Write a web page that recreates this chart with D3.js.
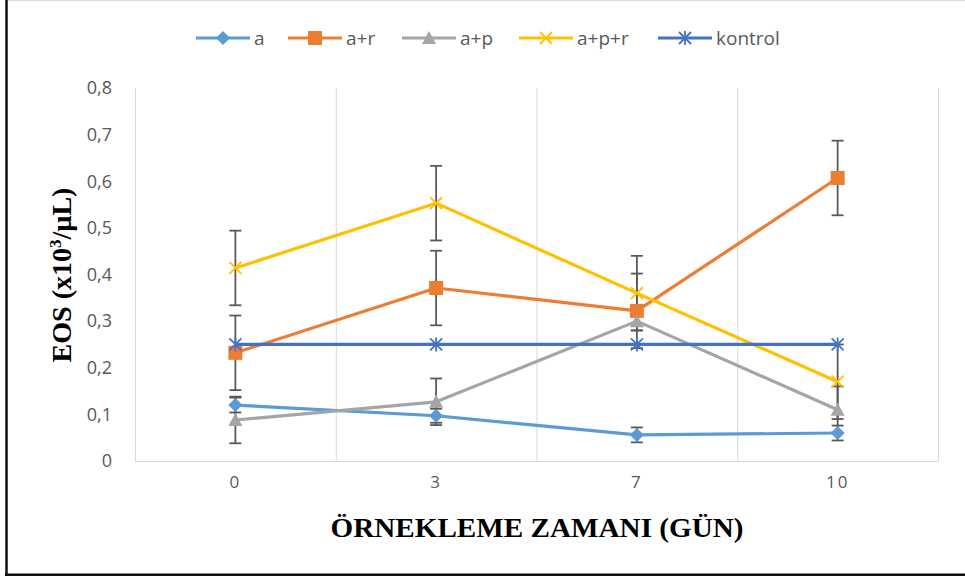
<!DOCTYPE html>
<html><head><meta charset="utf-8">
<script src="https://cdn.jsdelivr.net/npm/d3@7"></script>
<style>body{margin:0;background:#fff}svg{display:block}</style>
</head><body>
<svg id="c" width="965" height="579"></svg>
<script>
const categories = ["0","3","7","10"];
const seriesNames = ["a","a+r","a+p","a+p+r","kontrol"];
const valA     = [0.12, 0.097, 0.056, 0.06];
const valAR    = [0.232, 0.371, 0.322, 0.607];
const valAP    = [0.088, 0.127, 0.30, 0.11];
const valAPR   = [0.414, 0.553, 0.36, 0.17];
const valK     = [0.25, 0.25, 0.25, 0.25];
const errA     = [0.016, 0.015, 0.016, 0.016];
const errAR    = [0.08, 0.08, 0.08, 0.08];
const errAP    = [0.05, 0.05, 0.02, 0.05];
const errAPR   = [0.08, 0.08, 0.08, 0.08];
const errK     = [0, 0, 0, 0];
const yTicks   = [0,0.1,0.2,0.3,0.4,0.5,0.6,0.7,0.8];

const series = [
  {name:"a", vals:valA, err:errA, color:"#5B9BD5", marker:"diamond"},
  {name:"a+r", vals:valAR, err:errAR, color:"#ED7D31", marker:"square"},
  {name:"a+p", vals:valAP, err:errAP, color:"#A5A5A5", marker:"triangle"},
  {name:"a+p+r", vals:valAPR, err:errAPR, color:"#FFC000", marker:"x"},
  {name:"kontrol", vals:valK, err:errK, color:"#4472C4", marker:"star"}
];

const svg = d3.select("#c");
// outer frame
svg.append("line").attr("x1",7).attr("x2",965).attr("y1",0.5).attr("y2",0.5).attr("stroke","#d9d9d9");
svg.append("line").attr("x1",6.5).attr("x2",6.5).attr("y1",0).attr("y2",576).attr("stroke","#111").attr("stroke-width",2.5);
svg.append("line").attr("x1",5).attr("x2",965).attr("y1",574.8).attr("y2",574.8).attr("stroke","#111").attr("stroke-width",2.5);

const x = d3.scaleBand().domain(categories).range([135,938]);
const y = d3.scaleLinear().domain([0,0.8]).range([461,88]);

// vertical grid lines at band boundaries
const bounds = categories.map(c=>x(c)).concat([x.range()[1]]);
svg.append("g").selectAll("line").data(bounds).join("line")
  .attr("x1",d=>d+0.5).attr("x2",d=>d+0.5).attr("y1",y(0.8)).attr("y2",y(0))
  .attr("stroke","#d9d9d9").attr("stroke-width",1);
svg.append("line").attr("x1",135).attr("x2",938).attr("y1",y(0)+0.5).attr("y2",y(0)+0.5)
  .attr("stroke","#d9d9d9");

// y axis labels
const yAxis = d3.axisLeft(y).tickValues(yTicks).tickSize(0).tickPadding(0)
  .tickFormat(d=> d===0 ? "0" : d3.format(".1f")(d).replace(".",","));
const gy = svg.append("g").attr("transform","translate(112,0)").call(yAxis);
gy.select(".domain").remove();
gy.selectAll("text").attr("font-family","Open Sans").attr("font-size",18).attr("fill","#595959");

// x axis labels
const xAxis = d3.axisBottom(x).tickSize(0).tickPadding(0);
const gx = svg.append("g").attr("transform","translate(0,476)").call(xAxis);
gx.select(".domain").remove();
gx.selectAll("text").attr("font-family","Open Sans").attr("font-size",17).attr("fill","#595959")
  .attr("letter-spacing",2);

const cx = c => x(c) + x.bandwidth()/2;

function drawMarker(g, type, color, px, py){
  const s = 6;
  if(type==="diamond"){
    g.append("path").attr("d",`M${px},${py-s-1}L${px+s+1},${py}L${px},${py+s+1}L${px-s-1},${py}Z`).attr("fill",color);
  } else if(type==="square"){
    g.append("rect").attr("x",px-s-1).attr("y",py-s-1).attr("width",2*s+2).attr("height",2*s+2).attr("fill",color);
  } else if(type==="triangle"){
    g.append("path").attr("d",`M${px},${py-s-1}L${px+s+1},${py+s}L${px-s-1},${py+s}Z`).attr("fill",color);
  } else if(type==="x"){
    g.append("path").attr("d",`M${px-s},${py-s}L${px+s},${py+s}M${px+s},${py-s}L${px-s},${py+s}`)
      .attr("stroke",color).attr("stroke-width",1.8).attr("fill","none");
  } else if(type==="star"){
    g.append("path").attr("d",`M${px-s},${py-s}L${px+s},${py+s}M${px+s},${py-s}L${px-s},${py+s}M${px},${py-s-1}L${px},${py+s+1}`)
      .attr("stroke",color).attr("stroke-width",1.8).attr("fill","none");
  }
}

const line = d3.line().x((d,i)=>cx(categories[i])).y(d=>y(d));

// error bars
const eg = svg.append("g");
series.forEach(s=>{
  s.vals.forEach((v,i)=>{
    const e = s.err[i]; if(!e) return;
    const px = cx(categories[i]);
    eg.append("line").attr("x1",px).attr("x2",px).attr("y1",y(v+e)).attr("y2",y(v-e))
      .attr("stroke","#595959").attr("stroke-width",1.8);
    [v+e, v-e].forEach(t=>{
      eg.append("line").attr("x1",px-6).attr("x2",px+6).attr("y1",y(t)).attr("y2",y(t))
        .attr("stroke","#595959").attr("stroke-width",1.8);
    });
  });
});

// lines and markers
series.forEach(s=>{
  const g = svg.append("g");
  g.append("path").datum(s.vals).attr("d",line).attr("fill","none")
    .attr("stroke",s.color).attr("stroke-width",3.2).attr("stroke-linejoin","round");
  s.vals.forEach((v,i)=>drawMarker(g, s.marker, s.color, cx(categories[i]), y(v)));
});

// legend
const legX = [196, 288, 402, 519, 658];
const lg = svg.append("g");
series.forEach((s,i)=>{
  const lx = legX[i], ly = 38;
  lg.append("line").attr("x1",lx).attr("x2",lx+54).attr("y1",ly).attr("y2",ly)
    .attr("stroke",s.color).attr("stroke-width",3.2);
  drawMarker(lg, s.marker, s.color, lx+27, ly);
  lg.append("text").attr("x",lx+58).attr("y",ly).attr("dy","0.35em")
    .attr("font-family","Open Sans").attr("font-size",19).attr("fill","#595959").text(s.name);
});

// axis titles
svg.append("text").attr("x",537).attr("y",537).attr("text-anchor","middle")
  .attr("font-family","Liberation Serif").attr("font-weight","bold").attr("font-size",28)
  .attr("fill","#000").attr("textLength",413).attr("lengthAdjust","spacingAndGlyphs")
  .text("ÖRNEKLEME ZAMANI (GÜN)");
const yt = svg.append("text").attr("transform","translate(71,275) rotate(-90)").attr("text-anchor","middle")
  .attr("font-family","Liberation Serif").attr("font-weight","bold").attr("font-size",28).attr("fill","#000");
yt.append("tspan").text("EOS (x10");
yt.append("tspan").attr("font-size",17).attr("dy",-10).text("3");
yt.append("tspan").attr("dy",10).text("/µL)");
</script>
</body></html>
